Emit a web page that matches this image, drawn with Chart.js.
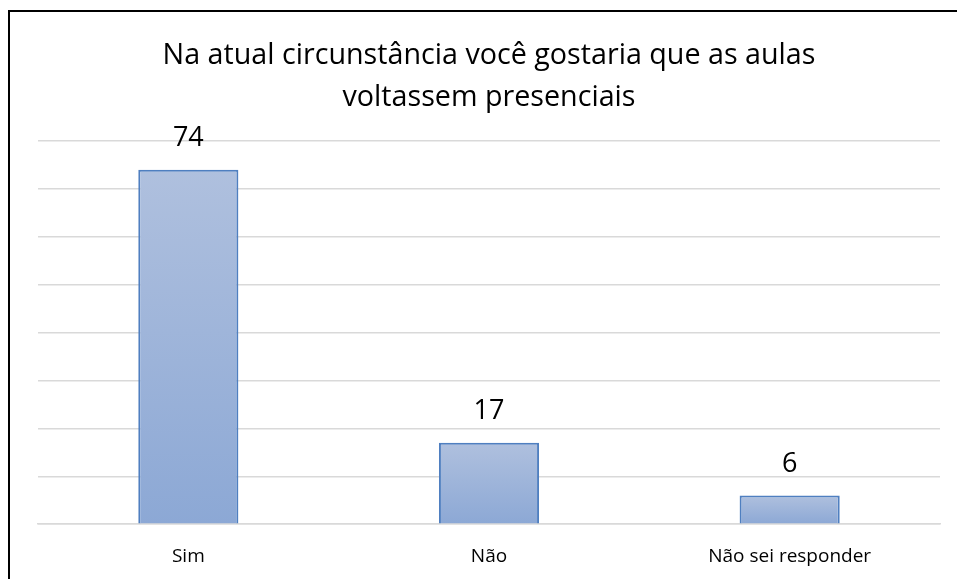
<!DOCTYPE html>
<html>
<head>
<meta charset="utf-8">
<script src="https://cdn.jsdelivr.net/npm/chart.js@4"></script>
<style>
  html, body { margin: 0; padding: 0; background: #fff; overflow: hidden; }
  #frame {
    position: absolute; left: 8px; top: 10px; width: 960px; height: 580px;
    border-left: 2px solid #000; border-top: 2px solid #000;
  }
  #chart { display: block; }
</style>
</head>
<body>
<div id="frame"><canvas id="chart" width="947" height="567"></canvas></div>
<script>
// Data
const categories = ['Sim', 'Não', 'Não sei responder'];
const answers = [74, 17, 6];
const titleLines = ['Na atual circunstância você gostaria que as aulas', 'voltassem presenciais'];

const FONT = "'Open Sans', 'Liberation Sans', sans-serif";

// Title drawn at fixed spot
const titlePlugin = {
    id: 'titleText',
    afterDraw(chart) {
        const ctx = chart.ctx;
        ctx.save();
        ctx.fillStyle = '#000';
        ctx.font = '28.7px ' + FONT;
        ctx.textAlign = 'center';
        ctx.textBaseline = 'middle';
        ctx.fillText(titleLines[0], 479, 44);
        ctx.fillText(titleLines[1], 479, 86);
        ctx.restore();
    }
};

// Value labels above bars
const valueLabels = {
    id: 'valueLabels',
    afterDatasetsDraw(chart) {
        const ctx = chart.ctx;
        const meta = chart.getDatasetMeta(0);
        ctx.save();
        ctx.fillStyle = '#000';
        ctx.font = '27px ' + FONT;
        ctx.textAlign = 'center';
        ctx.textBaseline = 'middle';
        meta.data.forEach((bar, i) => {
            ctx.fillText(answers[i], bar.x, bar.y - 31);
        });
        ctx.restore();
    }
};

// gradient per bar, light on top, darker at the base
function barGradient(context) {
    const chart = context.chart;
    const y = chart.scales && chart.scales.y;
    if (!y || context.raw === undefined) return '#9fb4da';
    const top = y.getPixelForValue(context.raw);
    const bottom = y.getPixelForValue(0);
    if (!isFinite(top) || top === bottom) return '#9fb4da';
    const g = chart.ctx.createLinearGradient(0, top, 0, bottom);
    g.addColorStop(0, '#afc0de');
    g.addColorStop(1, '#8ca8d5');
    return g;
}

new Chart(document.getElementById('chart'), {
    type: 'bar',
    data: {
        labels: categories,
        datasets: [{
            data: answers,
            backgroundColor: barGradient,
            borderColor: '#4f7fc0',
            borderWidth: 2,
            categoryPercentage: 1,
            barPercentage: 0.333
        }]
    },
    options: {
        responsive: false,
        animation: false,
        layout: {
            padding: { top: 129, left: 28, right: 17, bottom: -2 }
        },
        plugins: {
            legend: { display: false },
            tooltip: { enabled: false }
        },
        scales: {
            x: {
                grid: { display: false },
                border: { color: '#d9d9d9', width: 1.5 },
                ticks: {
                    color: '#000',
                    font: { family: FONT, size: 19 },
                    padding: 13
                }
            },
            y: {
                min: 0,
                max: 80,
                ticks: { display: false, stepSize: 10 },
                border: { display: false },
                grid: { color: '#d9d9d9', lineWidth: 1.5, drawTicks: false }
            }
        }
    },
    plugins: [titlePlugin, valueLabels]
});
</script>
</body>
</html>
